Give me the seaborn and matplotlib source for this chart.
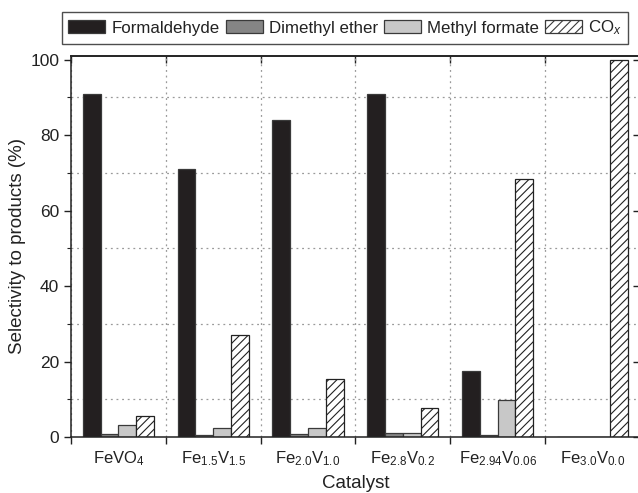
import numpy as np
import pandas as pd
import matplotlib
matplotlib.use("Agg")
import matplotlib.pyplot as plt
import seaborn as sns
from matplotlib.ticker import MultipleLocator, FixedLocator, NullFormatter

sns.set_theme(style="white")
plt.rcParams["font.family"] = ["Liberation Sans", "DejaVu Sans"]
plt.rcParams["mathtext.fontset"] = "custom"
plt.rcParams["mathtext.rm"] = "Liberation Sans"
plt.rcParams["mathtext.it"] = "Liberation Sans:italic"
plt.rcParams["hatch.linewidth"] = 0.8

catalysts = ["FeVO$_4$", "Fe$_{1.5}$V$_{1.5}$", "Fe$_{2.0}$V$_{1.0}$",
             "Fe$_{2.8}$V$_{0.2}$", "Fe$_{2.94}$V$_{0.06}$", "Fe$_{3.0}$V$_{0.0}$"]
products = ["Formaldehyde", "Dimethyl ether", "Methyl formate", "CO$_{\\it x}$"]
formaldehyde = [90.9, 70.9, 84.0, 91.0, 17.5, 0.0]
dimethyl_ether = [0.9, 0.5, 0.7, 1.0, 0.5, 0.0]
methyl_formate = [3.2, 2.5, 2.5, 1.0, 9.8, 0.0]
co_x = [5.6, 27.0, 15.3, 7.6, 68.5, 100.0]

series = [formaldehyde, dimethyl_ether, methyl_formate, co_x]
df = pd.DataFrame({
    "Catalyst": np.repeat([catalysts], len(products), axis=0).ravel(),
    "Product": np.repeat(products, len(catalysts)),
    "Selectivity": np.concatenate(series),
})

colors = ["#231f20", "#858585", "#c8c8c8", "#ffffff"]

fig = plt.figure(figsize=(6.38, 4.93), dpi=100)
ax = fig.add_axes([0.1113, 0.1136, 0.8917, 0.7731])

sns.barplot(data=df, x="Catalyst", y="Selectivity", hue="Product",
            order=catalysts, hue_order=products, palette=colors,
            width=0.75, gap=0, edgecolor="#3a3a3a", linewidth=0.9,
            saturation=1, errorbar=None, ax=ax, legend=False)

for bar in ax.containers[3]:
    bar.set_hatch("////")
    bar.set_edgecolor("#222222")

ax.set_ylim(0, 101)
ax.set_xlim(-0.5, len(catalysts) - 0.5)

# y ticks: labelled majors, gridlines on the odd tens
ax.yaxis.set_major_locator(MultipleLocator(20))
ax.yaxis.set_minor_locator(MultipleLocator(10))
ax.grid(False)
ax.yaxis.grid(True, which="minor", linestyle=(0, (1.5, 3)), color="#9a9a9a", linewidth=0.9)

# x ticks at the category boundaries, labels at the centres
bounds = np.arange(-0.5, len(catalysts), 1.0)
ax.xaxis.set_major_locator(FixedLocator(bounds))
ax.xaxis.set_major_formatter(NullFormatter())
ax.xaxis.set_minor_locator(FixedLocator(np.arange(len(catalysts))))
ax.set_xticks(np.arange(len(catalysts)), catalysts, minor=True)
ax.xaxis.grid(True, which="major", linestyle=(0, (1.5, 3)), color="#9a9a9a", linewidth=0.9)
ax.tick_params(axis="x", which="minor", length=0, labelsize=12, pad=9, colors="#222222")
ax.tick_params(axis="x", which="major", direction="out", length=5, width=1, color="#222222", bottom=True)
ax.tick_params(axis="y", which="major", direction="out", length=5, width=1, labelsize=12.5,
               color="#222222", labelcolor="#222222", left=True)
ax.tick_params(axis="y", which="minor", direction="out", length=3, width=0.8, color="#222222", left=True)

for s in ax.spines.values():
    s.set_color("#222222")
    s.set_linewidth(1.1)

# mirrored inward ticks on top and right
top = ax.secondary_xaxis("top")
top.set_xticks(bounds)
top.tick_params(direction="in", length=5, width=1, labeltop=False, color="#222222")
right = ax.secondary_yaxis("right")
right.set_yticks(np.arange(0, 101, 20))
right.tick_params(direction="in", length=5, width=1, labelright=False, color="#222222")

ax.set_xlabel("Catalyst", fontsize=13.5, color="#222222", labelpad=5)
ax.set_ylabel("Selectivity to products (%)", fontsize=13.5, color="#222222", labelpad=3)

handles = [plt.Rectangle((0, 0), 1, 1, facecolor=c, edgecolor="#3a3a3a", linewidth=0.9)
           for c in colors]
handles[3].set_hatch("////")
leg = fig.legend(handles, products, loc="upper left", bbox_to_anchor=(0.0967, 0.975),
                 borderaxespad=0, ncol=4, frameon=True, fancybox=False, fontsize=12.2,
                 handlelength=2.2, handleheight=0.8, handletextpad=0.35, columnspacing=0.35,
                 borderpad=0.38, labelcolor="#222222")
leg.get_frame().set_edgecolor("#222222")
leg.get_frame().set_linewidth(1.0)

fig.savefig("out.png", dpi=100)
